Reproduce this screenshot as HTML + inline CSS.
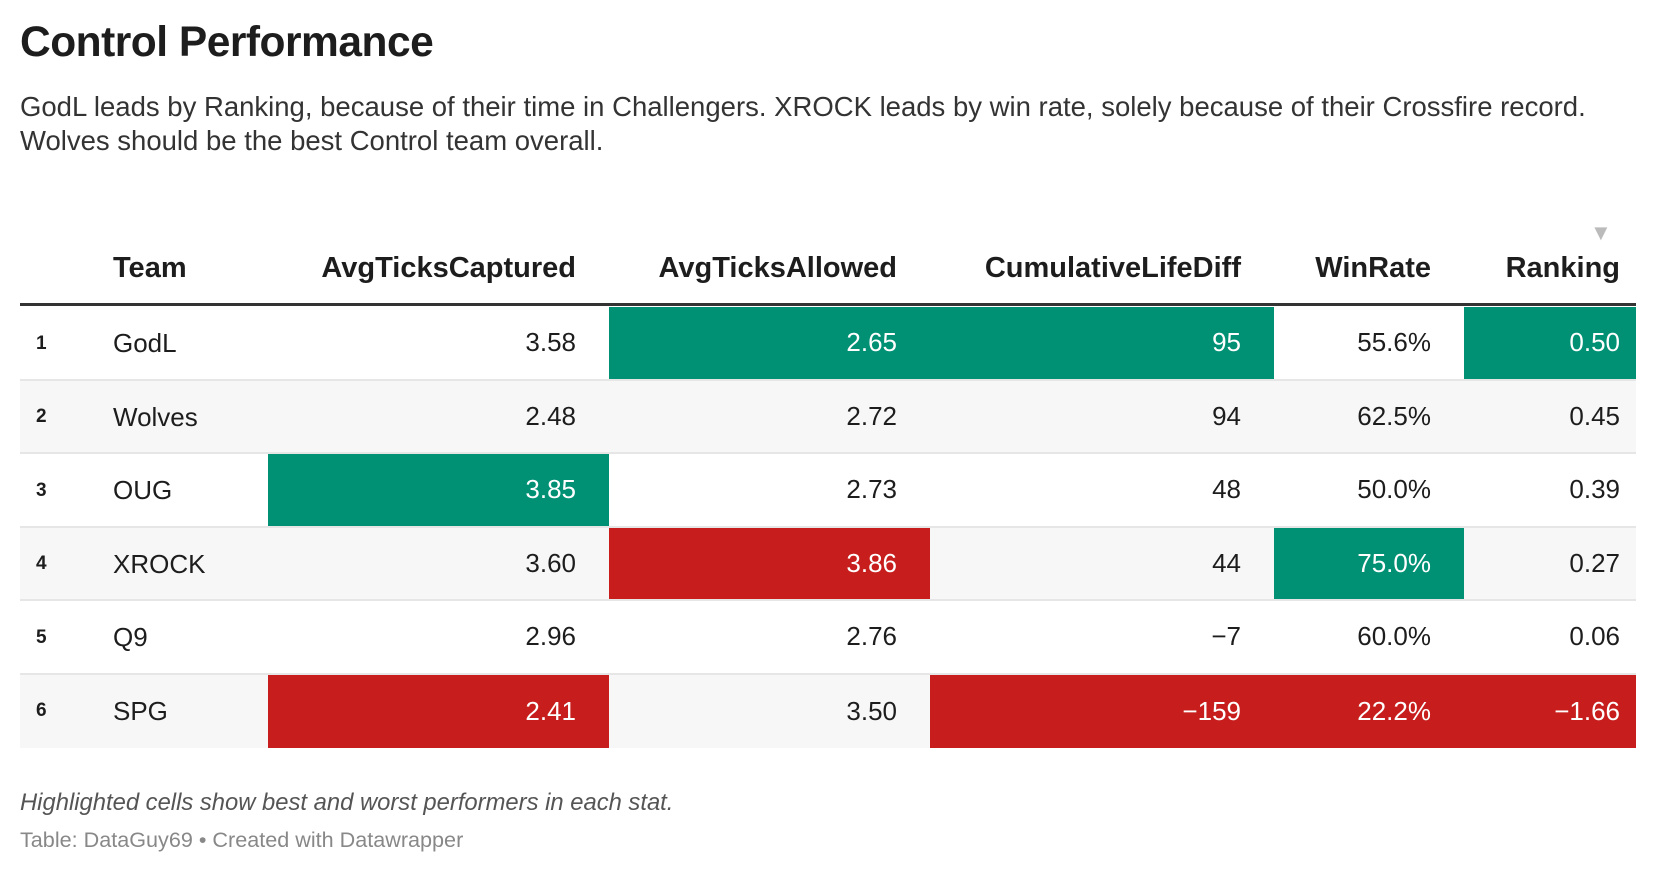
<!DOCTYPE html>
<html><head><meta charset="utf-8">
<style>
body{margin:0;width:1656px;height:872px;background:#fff;font-family:"Liberation Sans",Arial,sans-serif;color:#1d1d1d;position:relative;overflow:hidden}
.abs{position:absolute;white-space:nowrap}
#title{left:20px;top:19px;font-size:42.5px;font-weight:bold;letter-spacing:-0.5px}
.sub{left:20px;font-size:27.5px;color:#333}
.hdr{font-weight:bold;font-size:29px;top:252px;text-align:right}
.cell{position:absolute;box-sizing:border-box;font-size:26px;display:flex;align-items:center}
</style></head><body>
<div id="title" class="abs">Control Performance</div>
<div class="abs sub" style="top:91px">GodL leads by Ranking, because of their time in Challengers. XROCK leads by win rate, solely because of their Crossfire record.</div>
<div class="abs sub" style="top:125px">Wolves should be the best Control team overall.</div>
<div id="table"></div>
<div class="abs" style="left:20px;top:789px;font-size:23.8px;font-style:italic;color:#555">Highlighted cells show best and worst performers in each stat.</div>
<div class="abs" style="left:20px;top:827px;font-size:21.6px;color:#888">Table: DataGuy69 • Created with Datawrapper</div>
<script>
const teams=["GodL","Wolves","OUG","XROCK","Q9","SPG"];
const captured=["3.58","2.48","3.85","3.60","2.96","2.41"];
const allowed=["2.65","2.72","2.73","3.86","2.76","3.50"];
const lifeDiff=["95","94","48","44","\u22127","\u2212159"];
const winRate=["55.6%","62.5%","50.0%","75.0%","60.0%","22.2%"];
const ranking=["0.50","0.45","0.39","0.27","0.06","\u22121.66"];
const headers=["Team","AvgTicksCaptured","AvgTicksAllowed","CumulativeLifeDiff","WinRate","Ranking"];
const hlCaptured=["","","g","","","r"];
const hlAllowed=["g","","","r","",""];
const hlLife=["g","","","","","r"];
const hlWin=["","","","g","","r"];
const hlRank=["g","","","","","r"];

const colL=[20,90,268,609,930,1274,1464];const colR=1636;
const pads=[33,33,33,33,16];
const top0=307,rowH=73.5;
const T=document.getElementById('table');
function mk(cls){const d=document.createElement('div');d.className=cls;T.appendChild(d);return d;}
headers.forEach((h,i)=>{
 const d=mk('abs hdr');
 
 
 d.textContent=h;
 if(i===0){d.style.left='113px';d.style.textAlign='left';}
 else{const r=(i+2<colL.length?colL[i+2]:colR);d.style.right=(1656-r+pads[i-1])+'px';}
});
const arrow=mk('abs');


arrow.textContent='▼';arrow.style.cssText+='left:1590px;top:220px;font-size:22px;color:#bbb';
const rule=mk('abs');


rule.style.cssText+='left:20px;width:1616px;top:303px;height:3px;background:#333';
const cols=[captured,allowed,lifeDiff,winRate,ranking];
const hls=[hlCaptured,hlAllowed,hlLife,hlWin,hlRank];
teams.forEach((t,r)=>{
 const y=top0+r*rowH;
 const row=mk('abs');
 
 
 row.style.cssText+=`left:20px;width:1616px;top:${y}px;height:${rowH}px;background:${r%2?'#f7f7f7':'#fff'};border-bottom:${r<5?'2px solid #e6e6e6':'none'};box-sizing:border-box`;
 const rk=mk('cell');
 
 
 rk.textContent=r+1;rk.style.cssText+=`left:36px;top:${y}px;height:${rowH}px;font-size:19px;font-weight:bold`;
 const tn=mk('cell');
 
 
 tn.textContent=t;tn.style.cssText+=`left:113px;top:${y}px;height:${rowH}px`;
 cols.forEach((c,i)=>{
  const l=colL[i+2],rr=(i+3<colL.length?colL[i+3]:colR);
  const d=mk('cell');
  
  
  d.textContent=c[r];
  const h=hls[i][r];
  d.style.cssText+=`left:${l}px;width:${rr-l}px;top:${y}px;height:${rowH-(r<5?2:0)}px;justify-content:flex-end;padding-right:${pads[i]}px;`+
   (h==='g'?'background:#009175;color:#fff;':h==='r'?'background:#c71e1d;color:#fff;':'');
 });
});
</script>
</body></html>
